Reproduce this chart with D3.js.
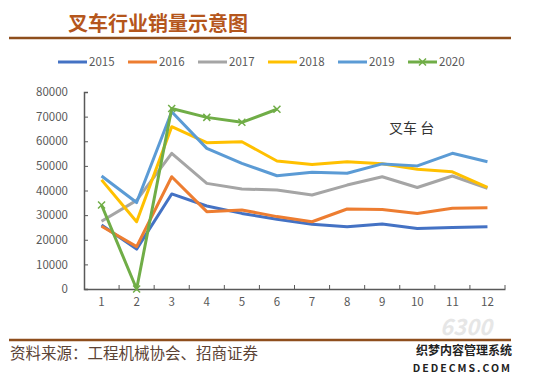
<!DOCTYPE html>
<html>
<head>
<meta charset="utf-8">
<script src="https://cdn.jsdelivr.net/npm/d3@7"></script>
<style>
  body { margin: 0; background: #fff; }
  svg text { font-family: "Noto Sans CJK SC", "Noto Sans", sans-serif; }
</style>
</head>
<body>
<div id="chart"></div>
<script>
// months and yearly forklift sales (units)
var months = ["1", "2", "3", "4", "5", "6", "7", "8", "9", "10", "11", "12"];
var years = ["2015", "2016", "2017", "2018", "2019", "2020"];
var sales2015 = [26000, 16200, 38600, 33700, 30700, 28300, 26300, 25300, 26400, 24600, 25000, 25300];
var sales2016 = [25500, 17200, 45600, 31400, 32100, 29400, 27300, 32500, 32300, 30700, 32800, 33000];
var sales2017 = [27500, 36000, 55100, 42900, 40600, 40200, 38200, 42200, 45600, 41200, 45900, 40900];
var sales2018 = [44300, 27300, 65900, 59400, 59800, 52000, 50600, 51700, 50900, 48600, 47600, 41300];
var sales2019 = [45900, 35100, 72000, 57100, 51000, 46000, 47400, 47000, 50800, 50000, 55100, 51700];
var sales2020 = [34100, 0, 73300, 69700, 67700, 73000];
var yTicks = [0, 10000, 20000, 30000, 40000, 50000, 60000, 70000, 80000];

var colors = ["#4472C4", "#ED7D31", "#A5A5A5", "#FFC000", "#5B9BD5", "#70AD47"];
var allSales = [sales2015, sales2016, sales2017, sales2018, sales2019, sales2020];

var width = 550, height = 377;

var svg = d3.select("#chart").append("svg")
  .attr("width", width)
  .attr("height", height);

// title and rule
svg.append("text")
  .attr("x", 68).attr("y", 31)
  .attr("font-size", 20)
  .attr("font-weight", "bold")
  .attr("fill", "#B5561C")
  .text("叉车行业销量示意图");

svg.append("line")
  .attr("x1", 9).attr("x2", 511)
  .attr("y1", 38).attr("y2", 38)
  .attr("stroke", "#8E4E1C")
  .attr("stroke-width", 2.5);

// watermark (drawn first so the chart sits on top)
svg.append("text")
  .attr("x", 440).attr("y", 335)
  .attr("font-size", 22)
  .attr("font-style", "italic")
  .attr("font-weight", "bold")
  .attr("font-family", "'DejaVu Sans', sans-serif")
  .attr("fill", "#e6e6e6")
  .text("6300");

// scales
var x = d3.scaleBand().domain(months).range([84, 505]).padding(0);
var y = d3.scaleLinear().domain([0, 80000]).range([289, 92]);

// y axis
var yAxis = svg.append("g")
  .attr("transform", "translate(84,0)")
  .call(d3.axisLeft(y).tickValues(yTicks).tickSize(-4).tickPadding(16).tickFormat(d3.format("d")));
yAxis.select(".domain").attr("stroke", "#595959").attr("stroke-width", 1.5);
yAxis.selectAll(".tick line").attr("stroke", "#595959");
yAxis.selectAll(".tick text")
  .attr("fill", "#595959")
  .attr("font-size", 11.5)
  .attr("font-family", "Calibri, Carlito, 'Liberation Sans', sans-serif");

// x axis (labels at centres, ticks between categories)
var xAxis = svg.append("g")
  .attr("transform", "translate(0,289)")
  .call(d3.axisBottom(x).tickSize(0).tickPadding(9));
xAxis.select(".domain").attr("stroke", "#595959").attr("stroke-width", 1.5);
xAxis.selectAll(".tick text")
  .attr("fill", "#595959")
  .attr("font-size", 11.5)
  .attr("font-family", "Calibri, Carlito, 'Liberation Sans', sans-serif");

svg.append("g")
  .selectAll("line")
  .data(months)
  .join("line")
    .attr("x1", function(d) { return x(d) + x.bandwidth(); })
    .attr("x2", function(d) { return x(d) + x.bandwidth(); })
    .attr("y1", 289).attr("y2", 285)
    .attr("stroke", "#595959");

// lines
var line = d3.line()
  .x(function(d, i) { return x(months[i]) + x.bandwidth() / 2; })
  .y(function(d) { return y(d); });

allSales.forEach(function(s, k) {
  svg.append("path")
    .datum(s)
    .attr("d", line)
    .attr("fill", "none")
    .attr("stroke", colors[k])
    .attr("stroke-width", 3)
    .attr("stroke-linejoin", "round");
});

// 2020 cross markers
svg.append("g")
  .selectAll("path")
  .data(sales2020)
  .join("path")
    .attr("transform", function(d, i) {
      return "translate(" + (x(months[i]) + x.bandwidth() / 2) + "," + y(d) + ")";
    })
    .attr("d", "M-3.5,-3.5L3.5,3.5M-3.5,3.5L3.5,-3.5")
    .attr("stroke", "#70AD47")
    .attr("stroke-width", 1.5);

// unit label
svg.append("text")
  .attr("x", 389).attr("y", 133)
  .attr("font-size", 14)
  .attr("fill", "#333")
  .text("叉车 台");

// legend
var legend = svg.append("g")
  .selectAll("g")
  .data(years)
  .join("g")
    .attr("transform", function(d, i) { return "translate(" + (58 + i * 70) + ",62)"; });

legend.append("line")
  .attr("x1", 0).attr("x2", 29)
  .attr("stroke", function(d, i) { return colors[i]; })
  .attr("stroke-width", 3);

legend.filter(function(d) { return d == "2020"; })
  .append("path")
  .attr("d", "M11,-3.5L18,3.5M11,3.5L18,-3.5")
  .attr("stroke", "#70AD47")
  .attr("stroke-width", 1.5);

legend.append("text")
  .attr("x", 31).attr("y", 4)
  .attr("font-size", 11.5)
  .attr("fill", "#595959")
  .attr("font-family", "Calibri, Carlito, 'Liberation Sans', sans-serif")
  .text(function(d) { return d; });

// footer
svg.append("line")
  .attr("x1", 9).attr("x2", 511)
  .attr("y1", 340).attr("y2", 340)
  .attr("stroke", "#8E4E1C")
  .attr("stroke-width", 2.5);

svg.append("text")
  .attr("x", 10).attr("y", 359)
  .attr("font-size", 15.5)
  .attr("fill", "#5B4335")
  .text("资料来源：工程机械协会、招商证券");

svg.append("rect")
  .attr("x", 419).attr("y", 342)
  .attr("width", 131).attr("height", 35)
  .attr("fill", "#fff");

svg.append("text")
  .attr("x", 512).attr("y", 355)
  .attr("text-anchor", "end")
  .attr("font-size", 12)
  .attr("font-weight", "bold")
  .attr("fill", "#222")
  .text("织梦内容管理系统");

svg.append("text")
  .attr("x", 512).attr("y", 372)
  .attr("text-anchor", "end")
  .attr("font-size", 10.5)
  .attr("font-weight", "bold")
  .attr("letter-spacing", 2)
  .attr("font-family", "'DejaVu Sans', sans-serif")
  .attr("fill", "#222")
  .text("DEDECMS.COM");
</script>
</body>
</html>
